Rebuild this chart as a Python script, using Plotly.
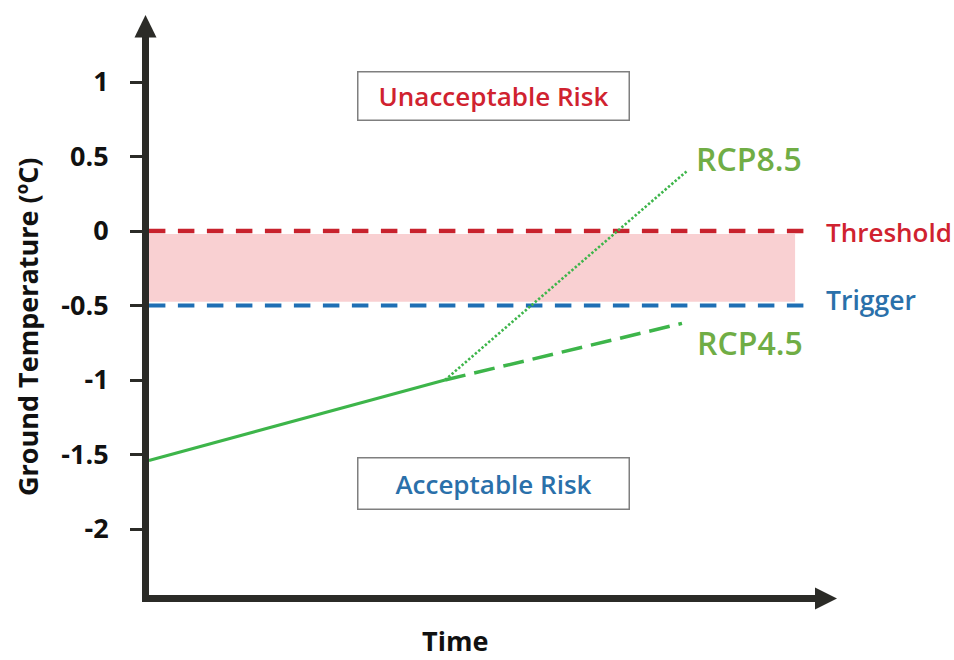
import plotly.graph_objects as go

# ---------------- data ----------------
ytick_vals = [1, 0.5, 0, -0.5, -1, -1.5, -2]
ytick_text = ["1", "0.5", "0", "-0.5", "-1", "-1.5", "-2"]

baseline_time = [0.13, 10.0]
baseline_temp = [-1.54, -1.0]

rcp45_time = [10.0, 17.9]
rcp45_temp = [-1.0, -0.62]

rcp85_time = [10.0, 18.05]
rcp85_temp = [-1.0, 0.40]

threshold_time = [0.13, 22.1]
threshold_temp = [0.0, 0.0]

trigger_time = [0.13, 22.1]
trigger_temp = [-0.5, -0.5]

band_time = [0.13, 21.67, 21.67, 0.13]
band_temp = [-0.02, -0.02, -0.475, -0.475]

# ---------------- layout geometry ----------------
FIG_W, FIG_H = 954, 660
L, R, T, B = 145, 837, 40, 598
W, H = R - L, B - T
X_RANGE = [0, 692 / 30.0]
Y_RANGE = [(231 - B) / 149.0, (231 - T) / 149.0]


def px(x):
    return (x - L) / W


def py(y):
    return (B - y) / H


AXIS = "#2b2b27"
RED = "#c8222d"
RED_TXT = "#d0222f"
BLUE = "#1f6fb4"
BLUE_TXT = "#2a70aa"
GREEN = "#3db54a"
GREEN_TXT = "#70ad45"
PINK = "#f9d0d2"
FONT = "Open Sans"

fig = go.Figure()

fig.add_trace(go.Scatter(x=band_time, y=band_temp, fill="toself", fillcolor=PINK,
                         mode="none", hoverinfo="skip", showlegend=False))
fig.add_trace(go.Scatter(x=threshold_time, y=threshold_temp, mode="lines",
                         line=dict(color=RED, width=4.5, dash="16.5px,12.5px"),
                         showlegend=False))
fig.add_trace(go.Scatter(x=trigger_time, y=trigger_temp, mode="lines",
                         line=dict(color=BLUE, width=4.2, dash="16.5px,12.5px"),
                         showlegend=False))
fig.add_trace(go.Scatter(x=baseline_time, y=baseline_temp, mode="lines",
                         line=dict(color=GREEN, width=3), showlegend=False))
fig.add_trace(go.Scatter(x=rcp45_time, y=rcp45_temp, mode="lines",
                         line=dict(color=GREEN, width=3.5, dash="21px,9px"),
                         showlegend=False))
fig.add_trace(go.Scatter(x=rcp85_time, y=rcp85_temp, mode="lines",
                         line=dict(color=GREEN, width=2.6, dash="2.4px,2px"),
                         showlegend=False))

shapes = [
    # y axis line
    dict(type="line", xref="paper", yref="paper", x0=px(145.5), x1=px(145.5),
         y0=py(602), y1=py(36), line=dict(color=AXIS, width=7), layer="above"),
    # x axis line
    dict(type="line", xref="paper", yref="paper", x0=px(142), x1=px(816),
         y0=py(598.5), y1=py(598.5), line=dict(color=AXIS, width=7), layer="above"),
    # y arrow head
    dict(type="path", xref="paper", yref="paper",
         path=f"M {px(134.5)},{py(37.5)} L {px(145.5)},{py(15)} L {px(156.5)},{py(37.5)} Z",
         fillcolor=AXIS, line=dict(width=0), layer="above"),
    # x arrow head
    dict(type="path", xref="paper", yref="paper",
         path=f"M {px(815)},{py(587.5)} L {px(837)},{py(598.5)} L {px(815)},{py(609.5)} Z",
         fillcolor=AXIS, line=dict(width=0), layer="above"),
]


def label(text, x, y, size, color, weight=600, xanchor="center", **kw):
    return dict(text=text, xref="paper", yref="paper", x=px(x), y=py(y),
                xanchor=xanchor, yanchor="middle", showarrow=False,
                font=dict(family=FONT, size=size, color=color, weight=weight), **kw)


annotations = [
    label("Unacceptable Risk", 493.5, 96, 26, RED_TXT, width=270, height=47,
          borderwidth=1.5, bordercolor="#7f7f7f", borderpad=0, bgcolor="white"),
    label("Acceptable Risk", 493.5, 483.5, 26, BLUE_TXT, width=270, height=50,
          borderwidth=1.5, bordercolor="#7f7f7f", borderpad=0, bgcolor="white"),
    label("RCP8.5", 749, 158, 32, GREEN_TXT),
    label("RCP4.5", 750, 342, 32, GREEN_TXT),
    label("Threshold", 824, 232, 26, RED_TXT, xanchor="left"),
    label("Trigger", 824, 300, 26.5, BLUE_TXT, xanchor="left"),
    label("Time", 455, 640, 27, "#111111", weight=700),
    label("Ground Temperature (ºC)", 27, 327, 27, "#111111", weight=700, textangle=-90),
]

fig.update_layout(
    width=FIG_W, height=FIG_H,
    margin=dict(l=L, r=FIG_W - R, t=T, b=FIG_H - B, pad=0),
    paper_bgcolor="white", plot_bgcolor="white",
    showlegend=False,
    shapes=shapes, annotations=annotations,
    xaxis=dict(range=X_RANGE, showgrid=False, zeroline=False, showline=False,
               showticklabels=False, ticks=""),
    yaxis=dict(range=Y_RANGE, showgrid=False, zeroline=False, showline=False,
               tickmode="array", tickvals=ytick_vals, ticktext=ytick_text,
               ticks="outside", ticklen=14, tickwidth=2.5, tickcolor=AXIS,
               ticklabelstandoff=16,
               tickfont=dict(family=FONT, size=27, color="#111111", weight=700)),
)

fig.write_html("out.html", config={"displayModeBar": False},
               post_script="document.body.style.margin='0';document.body.style.overflow='hidden';")
